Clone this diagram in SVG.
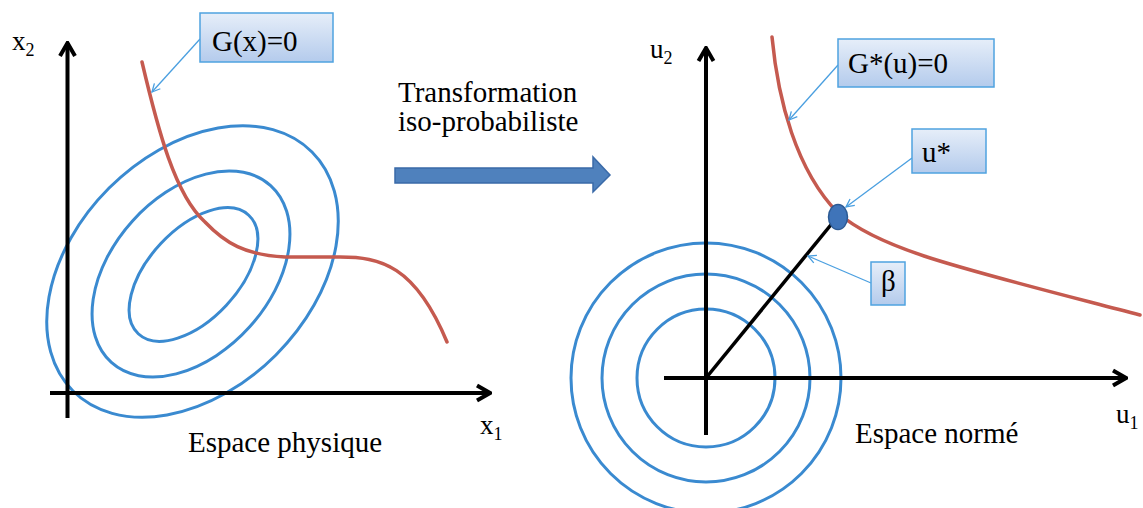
<svg xmlns="http://www.w3.org/2000/svg" width="1143" height="508" viewBox="0 0 1143 508">
<defs>
<linearGradient id="boxg" x1="0" y1="0" x2="0" y2="1">
<stop offset="0" stop-color="#e6eef9"/>
<stop offset="1" stop-color="#b4cbec"/>
</linearGradient>
<marker id="ax" markerUnits="userSpaceOnUse" viewBox="-16 -10 18 20" refX="0" refY="0" markerWidth="18" markerHeight="20" orient="auto">
<path d="M-13,-7.5 L0,0 L-13,7.5" fill="none" stroke="#000" stroke-width="4" stroke-linejoin="miter"/>
</marker>
<marker id="ca" markerUnits="userSpaceOnUse" viewBox="-10 -6 12 12" refX="0" refY="0" markerWidth="12" markerHeight="12" orient="auto">
<path d="M-8,-4 L0,0 L-8,4" fill="none" stroke="#4a9fe0" stroke-width="1.3"/>
</marker>
</defs>
<style>
.t{font-family:"Liberation Serif","Times New Roman",serif;fill:#000;}
.lbl{font-size:29px;}
.axl{font-size:27px;}
.sub{font-size:18px;}
.axis{stroke:#000;stroke-width:4;fill:none;}
.ell{stroke:#3a8ad0;stroke-width:3;fill:none;}
.red{stroke:#c55a4f;stroke-width:3.5;fill:none;stroke-linecap:round;}
.box{fill:url(#boxg);stroke:#4fa3e0;stroke-width:1.5;}
.call{stroke:#4a9fe0;stroke-width:1.3;fill:none;}
</style>

<g id="left-panel">
<g id="ellipses-left">
<ellipse class="ell" cx="193.5" cy="274.5" rx="81" ry="45" transform="rotate(-47 193.5 274.5)"/>
<ellipse class="ell" cx="191" cy="274" rx="119" ry="79" transform="rotate(-48 191 274)"/>
<ellipse class="ell" cx="192.5" cy="271.5" rx="169" ry="118" transform="rotate(-45 192.5 271.5)"/>
</g>
<path id="limit-x" class="red" d="M142,62 C158,130 175,195 205,222 C225,243 245,255 285,257 L340,257 C380,257 415,265 447,342"/>
<line class="axis" x1="67.5" y1="418" x2="67.5" y2="43" marker-end="url(#ax)"/>
<line class="axis" x1="50" y1="393" x2="490" y2="393" marker-end="url(#ax)"/>
<text class="t axl" x="12" y="50">x<tspan class="sub" dy="6">2</tspan></text>
<text class="t axl" x="480" y="434">x<tspan class="sub" dy="6">1</tspan></text>
<text class="t lbl" x="188" y="452">Espace physique</text>
</g>

<g id="transform">
<text class="t lbl" x="398" y="102">Transformation</text>
<text class="t lbl" x="398" y="131">iso-probabiliste</text>
<path d="M395,168 L593,168 L593,157 L610,175 L593,192 L593,183 L395,183 Z" fill="#4f81bd" stroke="#3a6aa8" stroke-width="1.5"/>
</g>

<g id="right-panel">
<g id="circles">
<circle class="ell" cx="706" cy="378" r="69"/>
<circle class="ell" cx="706" cy="378" r="104"/>
<circle class="ell" cx="706" cy="378" r="135"/>
</g>
<path id="limit-u" class="red" d="M772,37 C778,100 796,170 838,213 C880,250 960,268 1140,315"/>
<line class="axis" x1="706" y1="435" x2="706" y2="48" marker-end="url(#ax)"/>
<line class="axis" x1="664" y1="378" x2="1126" y2="378" marker-end="url(#ax)"/>
<line id="beta-line" x1="706" y1="378" x2="834" y2="221" stroke="#000" stroke-width="3.5"/>
<ellipse id="design-point" cx="838" cy="217" rx="9.5" ry="12.5" fill="#3f74b9" stroke="#2c5a94" stroke-width="1.5"/>
<text class="t axl" x="650" y="58">u<tspan class="sub" dy="6">2</tspan></text>
<text class="t axl" x="1116" y="423">u<tspan class="sub" dy="6">1</tspan></text>
<text class="t lbl" x="855" y="443">Espace normé</text>
</g>

<g id="connectors">
<line class="call" x1="200" y1="39" x2="152" y2="92" marker-end="url(#ca)"/>
<line class="call" x1="838" y1="65" x2="789" y2="120" marker-end="url(#ca)"/>
<line class="call" x1="912" y1="158" x2="846" y2="207" marker-end="url(#ca)"/>
<line class="call" x1="871" y1="283" x2="808" y2="256" marker-end="url(#ca)"/>
</g>

<g id="node-gx">
<rect class="box" x="200" y="13" width="133" height="49"/>
<text class="t lbl" x="212" y="51">G(x)=0</text>
</g>
<g id="node-gu">
<rect class="box" x="838" y="39" width="156" height="48"/>
<text class="t lbl" x="848" y="73">G*(u)=0</text>
</g>
<g id="node-ustar">
<rect class="box" x="912" y="129" width="74" height="44"/>
<text class="t lbl" x="922" y="162">u*</text>
</g>
<g id="node-beta">
<rect class="box" x="871" y="262" width="34" height="43"/>
<text class="t lbl" x="881" y="291">β</text>
</g>
</svg>
